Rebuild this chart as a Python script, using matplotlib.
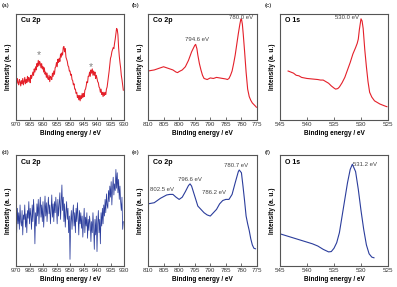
import numpy as np
import matplotlib
matplotlib.use("Agg")
import matplotlib.pyplot as plt

plt.rcParams['font.family'] = ['Liberation Sans', 'DejaVu Sans']

red = '#e4202a'
blue = '#2b3d9c'

# (a) Cu 2p, fresh sample, 0.25 eV steps from 970 eV
cu_a_start = 970.0
cu_a = [0.37, 0.34, 0.39, 0.35, 0.33, 0.38, 0.36, 0.32,
        0.37, 0.34, 0.39, 0.33, 0.36, 0.40, 0.34, 0.38,
        0.35, 0.41, 0.36, 0.40, 0.38, 0.35, 0.42, 0.39,
        0.42, 0.45, 0.42, 0.48, 0.45, 0.50, 0.47, 0.53,
        0.50, 0.56, 0.51, 0.55, 0.53, 0.49, 0.53, 0.48,
        0.50, 0.45, 0.49, 0.43, 0.45, 0.40, 0.44, 0.39,
        0.38, 0.42, 0.36, 0.41, 0.40, 0.38, 0.44, 0.41,
        0.46, 0.43, 0.49, 0.50, 0.54, 0.50, 0.57, 0.54,
        0.58, 0.55, 0.62, 0.59, 0.63, 0.61, 0.68, 0.69,
        0.64, 0.67, 0.59, 0.57, 0.55, 0.51, 0.50, 0.46,
        0.46, 0.42, 0.43, 0.38, 0.37, 0.33, 0.34, 0.29,
        0.29, 0.25, 0.26, 0.21, 0.23, 0.19, 0.23, 0.18,
        0.23, 0.20, 0.25, 0.21, 0.25, 0.22, 0.28, 0.29,
        0.32, 0.36, 0.35, 0.41, 0.41, 0.45, 0.41, 0.47,
        0.44, 0.48, 0.42, 0.46, 0.42, 0.45, 0.39, 0.42,
        0.39, 0.36, 0.35, 0.31, 0.30, 0.26, 0.29, 0.24,
        0.26, 0.22, 0.26, 0.23, 0.26, 0.24, 0.29, 0.31,
        0.36, 0.41, 0.46, 0.52, 0.58, 0.60, 0.64, 0.66,
        0.68, 0.67, 0.72, 0.76, 0.81, 0.86, 0.85, 0.80,
        0.68, 0.60, 0.54, 0.49, 0.42, 0.38, 0.33, 0.28]

# (b) Co 2p
co_b_x = [810, 809, 808, 807, 806, 805, 804, 803, 802, 801, 800.5, 800, 799, 798, 797,
          796.5, 796, 795.5, 795, 794.7, 794.3, 794, 793.5, 793, 792.5, 792, 791.5, 791,
          790, 789, 788, 787, 786, 785, 784.5, 784, 783.5, 783, 782.5, 782, 781.5, 781,
          780.5, 780.2, 780, 779.7, 779.4, 779, 778.5, 778, 777.5, 777, 776.5, 776, 775.5, 775.2]
co_b_y = [0.46, 0.465, 0.47, 0.48, 0.49, 0.50, 0.49, 0.48, 0.47, 0.45, 0.445, 0.455, 0.47, 0.50, 0.56,
          0.60, 0.64, 0.67, 0.70, 0.71, 0.67, 0.61, 0.53, 0.47, 0.42, 0.39, 0.385, 0.38,
          0.395, 0.39, 0.40, 0.395, 0.39, 0.385, 0.38, 0.39, 0.42, 0.46, 0.53, 0.61, 0.71, 0.81,
          0.90, 0.945, 0.95, 0.90, 0.80, 0.65, 0.45, 0.29, 0.22, 0.185, 0.16, 0.145, 0.13, 0.12]

# (c) O 1s
o_c_x = [543.5, 543, 542.5, 542, 541.5, 541, 540.5, 540, 539, 538, 537.5, 537, 536.5, 536,
         535.5, 535, 534.7, 534.3, 534, 533.5, 533, 532.5, 532, 531.5, 531, 530.7, 530.5,
         530.3, 530, 529.8, 529.6, 529.3, 529, 528.7, 528.4, 528, 527.5, 527, 526.5, 526,
         525.5, 525.2]
o_c_y = [0.46, 0.45, 0.44, 0.42, 0.415, 0.40, 0.395, 0.39, 0.385, 0.38, 0.375, 0.375, 0.36, 0.345,
         0.32, 0.30, 0.29, 0.295, 0.31, 0.35, 0.40, 0.47, 0.54, 0.62, 0.68, 0.72, 0.76,
         0.85, 0.95, 0.93, 0.86, 0.66, 0.50, 0.36, 0.26, 0.215, 0.18, 0.165, 0.15, 0.14,
         0.13, 0.125]

# (d) Cu 2p, after cycling, 0.25 eV steps from 970 eV
cu_d_start = 970.0
cu_d = [0.45, 0.30, 0.52, 0.38, 0.48, 0.33, 0.55, 0.40,
        0.36, 0.50, 0.28, 0.46, 0.42, 0.55, 0.35, 0.47,
        0.30, 0.50, 0.43, 0.58, 0.38, 0.52, 0.45, 0.33,
        0.55, 0.40, 0.60, 0.47, 0.20, 0.48, 0.36, 0.56,
        0.45, 0.60, 0.38, 0.52, 0.62, 0.44, 0.55, 0.40,
        0.58, 0.35, 0.50, 0.63, 0.45, 0.57, 0.40, 0.52,
        0.62, 0.47, 0.55, 0.38, 0.50, 0.64, 0.44, 0.56,
        0.40, 0.58, 0.48, 0.62, 0.52, 0.38, 0.60, 0.45,
        0.55, 0.66, 0.42, 0.58, 0.73, 0.50, 0.62, 0.40,
        0.56, 0.35, 0.48, 0.58, 0.42, 0.52, 0.30, 0.45,
        0.06, 0.40, 0.50, 0.33, 0.46, 0.55, 0.36, 0.48,
        0.30, 0.52, 0.40, 0.57, 0.44, 0.28, 0.50, 0.38,
        0.48, 0.34, 0.45, 0.26, 0.40, 0.52, 0.30, 0.44,
        0.36, 0.48, 0.25, 0.42, 0.32, 0.45, 0.38, 0.22,
        0.40, 0.30, 0.48, 0.35, 0.15, 0.42, 0.28, 0.45,
        0.13, 0.38, 0.50, 0.30, 0.42, 0.20, 0.48, 0.36,
        0.52, 0.38, 0.55, 0.45, 0.60, 0.48, 0.65, 0.55,
        0.52, 0.68, 0.58, 0.72, 0.62, 0.76, 0.55, 0.70,
        0.80, 0.64, 0.74, 0.68, 0.87, 0.70, 0.84, 0.66,
        0.78, 0.60, 0.72, 0.58, 0.50, 0.62, 0.33, 0.40]

# (e) Co 2p
co_e_x = [810, 808, 806, 804, 803, 802, 801, 800, 799, 798, 797, 796.5, 796, 795, 794,
          793, 792, 791, 790, 789, 788, 787, 786, 785, 784, 783, 782, 781, 780.7, 780,
          779.5, 779, 778.5, 778, 777.5, 777, 776.5, 776, 775.5]
co_e_y = [0.56, 0.57, 0.61, 0.64, 0.645, 0.645, 0.62, 0.60, 0.62, 0.67, 0.725, 0.74, 0.72, 0.63, 0.54,
          0.51, 0.48, 0.46, 0.45, 0.48, 0.51, 0.56, 0.59, 0.60, 0.60, 0.645, 0.75, 0.85, 0.865, 0.84,
          0.72, 0.59, 0.45, 0.38, 0.32, 0.245, 0.19, 0.16, 0.155]

# (f) O 1s
o_f_x = [545, 543, 541, 539, 538, 537, 536, 535.5, 535, 534.5, 534, 533.5, 533, 532.5, 532,
         531.6, 531, 530.5, 530, 529.5, 529, 528.5, 528, 527.6]
o_f_y = [0.29, 0.26, 0.23, 0.20, 0.18, 0.15, 0.127, 0.13, 0.16, 0.21, 0.30, 0.45, 0.60, 0.75, 0.87,
         0.917, 0.85, 0.69, 0.50, 0.33, 0.19, 0.11, 0.08, 0.074]

panel_tags = ['(a)', '(b)', '(c)', '(d)', '(e)', '(f)']
panel_titles = ['Cu 2p', 'Co 2p', 'O 1s', 'Cu 2p', 'Co 2p', 'O 1s']
xlims = [(970, 930), (810, 775), (545, 525)] * 2
xticks = [np.arange(970, 929, -5), np.arange(810, 774, -5), np.arange(545, 524, -5)] * 2

W, H = 397.0, 287.0
fig = plt.figure(figsize=(W / 100, H / 100), dpi=100)

col_left = [16, 148, 280]
col_w = [108, 109, 108]
row_top = [13.5, 155]
row_h = [106.5, 111]

axes = []
for r in range(2):
    for c in range(3):
        rect = [col_left[c] / W, 1 - (row_top[r] + row_h[r]) / H, col_w[c] / W, row_h[r] / H]
        axes.append(fig.add_axes(rect))

cu_a_x = cu_a_start - 0.25 * np.arange(len(cu_a))
cu_d_x = cu_d_start - 0.25 * np.arange(len(cu_d))

axes[0].plot(cu_a_x, cu_a, color=red, lw=0.75)
axes[1].plot(co_b_x, co_b_y, color=red, lw=0.8)
axes[2].plot(o_c_x, o_c_y, color=red, lw=0.8)
axes[3].plot(cu_d_x, cu_d, color=blue, lw=0.55)
axes[4].plot(co_e_x, co_e_y, color=blue, lw=0.8)
axes[5].plot(o_f_x, o_f_y, color=blue, lw=0.8)

for i, ax in enumerate(axes):
    ax.set_xlim(*xlims[i])
    ax.set_ylim(0, 1)
    ax.set_xticks(xticks[i])
    ax.set_yticks([])
    ax.tick_params(axis='x', direction='in', length=2, width=0.5, pad=1.5,
                   labelsize=4.5, colors='#333333')
    for s in ax.spines.values():
        s.set_color('#555555')
        s.set_linewidth(0.8)
    ax.set_xlabel('Binding energy / eV', fontsize=4.7, fontweight='bold', labelpad=1.8)
    ax.set_ylabel('Intensity (a. u.)', fontsize=4.7, fontweight='bold', labelpad=3)
    ax.text(0.05, 0.935, panel_titles[i], transform=ax.transAxes, fontsize=5,
            fontweight='bold', va='center', ha='left')

# panel tags
tag_x = [2, 132, 265]
tag_y = [6, 152.5]
for i, t in enumerate(panel_tags):
    fig.text(tag_x[i % 3] / W, 1 - tag_y[i // 3] / H, t, fontsize=4.5,
             va='center', ha='left')

ann = dict(fontsize=4.3, color='#444444', va='center')
axes[0].text(961.6, 0.61, '*', fontsize=7.5, color='#808080', ha='center', va='center')
axes[0].text(942.1, 0.50, '*', fontsize=7.5, color='#808080', ha='center', va='center')
axes[1].text(794.4, 0.755, '794.6 eV', ha='center', **ann)
axes[1].text(780.0, 0.96, '780.0 eV', ha='center', **ann)
axes[2].text(530.3, 0.96, '530.0 eV', ha='right', **ann)
axes[4].text(805.6, 0.69, '802.5 eV', ha='center', **ann)
axes[4].text(796.5, 0.78, '796.6 eV', ha='center', **ann)
axes[4].text(788.7, 0.66, '786.2 eV', ha='center', **ann)
axes[4].text(781.8, 0.905, '780.7 eV', ha='center', **ann)
axes[5].text(531.4, 0.91, '531.2 eV', ha='left', **ann)

fig.savefig('out.png', dpi=100)
